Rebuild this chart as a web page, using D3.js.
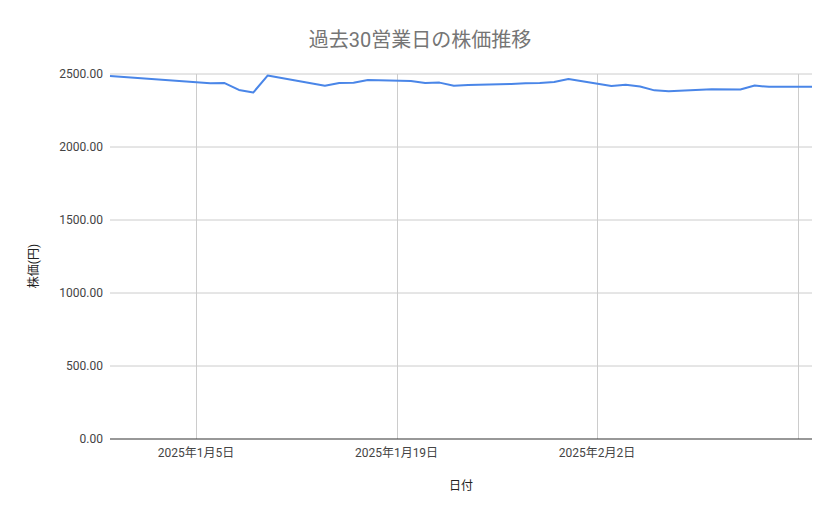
<!DOCTYPE html>
<html>
<head>
<meta charset="utf-8">
<script src="https://cdn.jsdelivr.net/npm/d3@7.9.0/dist/d3.min.js"></script>
<style>
  body { margin: 0; background: #fff; }
  svg { display: block; font-family: Roboto, 'Noto Sans CJK JP', sans-serif; }
</style>
</head>
<body>
<svg id="chart" width="839" height="519"></svg>
<script>
// trading days (Tokyo market: new-year closure, 1/13 and 2/11 holidays)
const dates = [
  '2024-12-30',
  '2025-01-06', '2025-01-07', '2025-01-08', '2025-01-09', '2025-01-10',
  '2025-01-14', '2025-01-15', '2025-01-16', '2025-01-17',
  '2025-01-20', '2025-01-21', '2025-01-22', '2025-01-23', '2025-01-24',
  '2025-01-27', '2025-01-28', '2025-01-29', '2025-01-30', '2025-01-31',
  '2025-02-03', '2025-02-04', '2025-02-05', '2025-02-06', '2025-02-07',
  '2025-02-10', '2025-02-12', '2025-02-13', '2025-02-14', '2025-02-17'
];
const prices = [
  2486,
  2437, 2438, 2391, 2373, 2489,
  2420, 2439, 2440, 2459,
  2452, 2438, 2441, 2420, 2424,
  2432, 2436, 2438, 2445, 2466,
  2418, 2427, 2414, 2388, 2382,
  2396, 2394, 2421, 2412, 2412
];
const yTicks = [0, 500, 1000, 1500, 2000, 2500];
const xTicks = ['2025-01-05', '2025-01-19', '2025-02-02', '2025-02-16'];
const xLabelled = ['2025-01-05', '2025-01-19', '2025-02-02'];

const parse = d3.timeParse('%Y-%m-%d');
const data = dates.map((d, i) => ({ date: parse(d), value: prices[i] }));

const svg = d3.select('#chart');
const margin = { left: 110, right: 27, top: 74, bottom: 80 };
const width = 839, height = 519;

const x = d3.scaleTime()
  .domain(d3.extent(data, d => d.date))
  .range([margin.left, width - margin.right]);
const y = d3.scaleLinear()
  .domain([0, 2500])
  .range([height - margin.bottom, margin.top]);

// horizontal grid
svg.append('g')
  .selectAll('line')
  .data(yTicks.filter(t => t > 0))
  .join('line')
  .attr('x1', margin.left).attr('x2', width - margin.right)
  .attr('y1', d => y(d)).attr('y2', d => y(d))
  .attr('stroke', '#cccccc').attr('stroke-width', 1);

// vertical grid
svg.append('g')
  .selectAll('line')
  .data(xTicks.map(parse))
  .join('line')
  .attr('x1', d => Math.round(x(d)) + 0.5).attr('x2', d => Math.round(x(d)) + 0.5)
  .attr('y1', margin.top).attr('y2', height - margin.bottom)
  .attr('stroke', '#cccccc').attr('stroke-width', 1);

// y tick labels
svg.append('g')
  .selectAll('text')
  .data(yTicks)
  .join('text')
  .attr('x', margin.left - 7)
  .attr('y', d => y(d))
  .attr('dy', '0.35em')
  .attr('text-anchor', 'end')
  .attr('font-size', 12)
  .attr('fill', '#444')
  .text(d => d3.format('.2f')(d));

// x tick labels
const fmtDate = d => `${d.getFullYear()}年${d.getMonth() + 1}月${d.getDate()}日`;
svg.append('g')
  .selectAll('text')
  .data(xLabelled.map(parse))
  .join('text')
  .attr('x', d => x(d))
  .attr('y', 457)
  .attr('text-anchor', 'middle')
  .attr('font-size', 12)
  .attr('fill', '#444')
  .text(fmtDate);

// baseline
svg.append('line')
  .attr('x1', margin.left).attr('x2', width - margin.right)
  .attr('y1', y(0)).attr('y2', y(0))
  .attr('stroke', '#333').attr('stroke-width', 1.2);

// price line
svg.append('path')
  .datum(data)
  .attr('fill', 'none')
  .attr('stroke', '#4a86e8')
  .attr('stroke-width', 2)
  .attr('stroke-linejoin', 'round')
  .attr('d', d3.line().x(d => x(d.date)).y(d => y(d.value)));

// title
svg.append('text')
  .attr('x', 420).attr('y', 47)
  .attr('text-anchor', 'middle')
  .attr('font-size', 20)
  .attr('fill', '#757575')
  .text('過去30営業日の株価推移');

// axis titles
svg.append('text')
  .attr('x', 461).attr('y', 490)
  .attr('text-anchor', 'middle')
  .attr('font-size', 12)
  .attr('fill', '#222')
  .text('日付');

svg.append('text')
  .attr('transform', 'translate(38,266) rotate(-90)')
  .attr('text-anchor', 'middle')
  .attr('font-size', 12)
  .attr('fill', '#222')
  .text('株価(円)');
</script>
</body>
</html>
